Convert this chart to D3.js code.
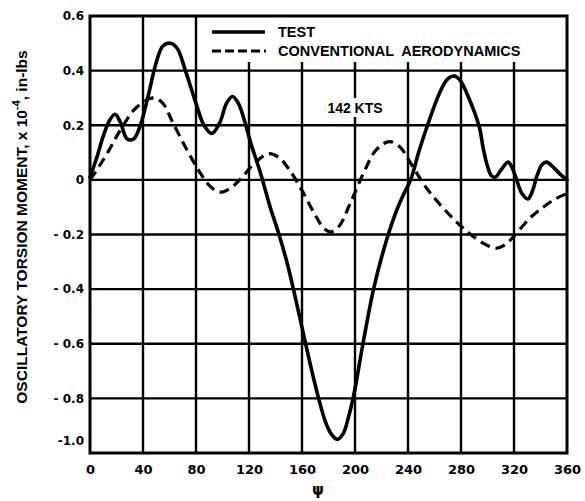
<!DOCTYPE html>
<html>
<head>
<meta charset="utf-8">
<script src="https://cdn.jsdelivr.net/npm/d3@7"></script>
<style>
  html, body { margin: 0; padding: 0; background: #fff; }
  svg { display: block; }
</style>
</head>
<body>
<svg id="chart" width="585" height="501"></svg>
<script>
// ---- data ----
const psiTest = [0,5,10,15,19,23,28,33,38,44,50,55,61,66,72,80,86,92,98,103,107.5,112,117,121,129,136,142,148,154,160,166,172,178,182,186.5,191,195,199,206,214,222,230,236,242,248,254,264,270,275,280,285,290,294,297,300,303,306,310,315.5,319,322,326,330.5,334,337,341,344.5,350,355,360];
const testValues = [0.01,0.08,0.16,0.22,0.24,0.21,0.15,0.15,0.20,0.31,0.43,0.49,0.50,0.48,0.40,0.28,0.20,0.17,0.21,0.28,0.305,0.28,0.21,0.14,0.02,-0.10,-0.19,-0.29,-0.41,-0.54,-0.67,-0.79,-0.89,-0.93,-0.95,-0.93,-0.87,-0.79,-0.60,-0.40,-0.25,-0.13,-0.06,0.0,0.10,0.19,0.32,0.37,0.38,0.36,0.31,0.25,0.19,0.11,0.05,0.015,0.01,0.035,0.065,0.04,0.0,-0.05,-0.07,-0.04,0.01,0.055,0.065,0.045,0.02,0.0];

const psiConv = [0,7,14.5,22,35,48,55,62,72,82,90,98,106,114,124,135,143,150,159,169,177,182,188,196,206,216,226,234,241.5,254,266,279,290,300,307,314,322,332,342,351,360];
const convValues = [0.0,0.05,0.11,0.175,0.265,0.30,0.28,0.215,0.12,0.035,-0.02,-0.045,-0.03,0.005,0.06,0.096,0.08,0.04,-0.03,-0.12,-0.18,-0.19,-0.17,-0.09,0.02,0.11,0.14,0.12,0.065,-0.03,-0.10,-0.165,-0.21,-0.24,-0.25,-0.235,-0.195,-0.14,-0.10,-0.07,-0.05];

const xTicks = [0,40,80,120,160,200,240,280,320,360];
const xTickLabels = ["0","40","80","120","160","200","240","280","320","360"];
const yTicks = [-1.0,-0.8,-0.6,-0.4,-0.2,0,0.2,0.4,0.6];
const yTickLabels = ["-1.0","- 0.8","- 0.6","- 0.4","- 0.2","0","0.2","0.4","0.6"];

const seriesNames = ["TEST", "CONVENTIONAL AERODYNAMICS"];
const speedLabel = "142 KTS";
const xTitle = "\u03C8";

// ---- layout ----
const svg = d3.select("#chart");
const mLeft = 90, mRight = 567, mTop = 16, mBottom = 453;
const x = d3.scaleLinear().domain([0, 360]).range([mLeft, mRight]);
const y = d3.scaleLinear().domain([-1.0, 0.6]).range([mBottom, mTop]);

const tickFont = "'DejaVu Sans', sans-serif";
const labelFont = "'Liberation Sans', Arial, sans-serif";

// gridlines
const grid = svg.append("g").attr("stroke", "#000").attr("stroke-width", 2.4);
grid.selectAll("line.v").data(xTicks.slice(1, -1)).join("line").attr("class", "v")
  .attr("x1", d => x(d)).attr("x2", d => x(d))
  .attr("y1", mTop).attr("y2", mBottom);
grid.selectAll("line.h").data(yTicks.slice(1, -1)).join("line").attr("class", "h")
  .attr("x1", mLeft).attr("x2", mRight)
  .attr("y1", d => y(d)).attr("y2", d => y(d));

// legend white box (interrupts gridlines)
svg.append("rect").attr("x", 205).attr("y", mTop).attr("width", mRight - 205).attr("height", 46)
  .attr("fill", "#fff");

// speed label with white background
svg.append("rect").attr("x", 327).attr("y", 98).attr("width", 57).attr("height", 19).attr("fill", "#fff");
svg.append("text").attr("x", 355).attr("y", 113).attr("text-anchor", "middle")
  .attr("font-family", labelFont).attr("font-weight", "bold").attr("font-size", 14)
  .text(speedLabel);

// frame
svg.append("rect").attr("x", mLeft).attr("y", mTop).attr("width", mRight - mLeft).attr("height", mBottom - mTop)
  .attr("fill", "none").attr("stroke", "#000").attr("stroke-width", 3);

// axes (labels only)
const xAxis = d3.axisBottom(x).tickValues(xTicks).tickSize(0).tickPadding(0)
  .tickFormat((d, i) => xTickLabels[i]);
const gx = svg.append("g").attr("transform", `translate(0,${mBottom})`).call(xAxis);
gx.select(".domain").remove();
gx.selectAll("text").attr("font-family", tickFont).attr("font-weight", "bold")
  .attr("font-size", 13).attr("fill", "#000").attr("dy", null).attr("y", 21);

const yAxis = d3.axisLeft(y).tickValues(yTicks).tickSize(0).tickPadding(6)
  .tickFormat((d, i) => yTickLabels[i]);
const gy = svg.append("g").attr("transform", `translate(${mLeft},0)`).call(yAxis);
gy.select(".domain").remove();
gy.selectAll("text").attr("font-family", tickFont).attr("font-weight", "bold")
  .attr("font-size", 12).attr("fill", "#000");
gy.selectAll(".tick").filter(d => d === -1.0).select("text").attr("y", -12);

// series
const lineGen = d3.line().x(d => x(d[0])).y(d => y(d[1])).curve(d3.curveCatmullRom.alpha(0.5));
const testData = psiTest.map((p, i) => [p, testValues[i]]);
const convData = psiConv.map((p, i) => [p, convValues[i]]);

svg.append("path").datum(convData).attr("d", lineGen)
  .attr("fill", "none").attr("stroke", "#000").attr("stroke-width", 3.2)
  .attr("stroke-dasharray", "10,6");
svg.append("path").datum(testData).attr("d", lineGen)
  .attr("fill", "none").attr("stroke", "#000").attr("stroke-width", 3.6)
  .attr("stroke-linejoin", "round").attr("stroke-linecap", "round");

// legend
const legend = svg.append("g");
legend.append("line").attr("x1", 212).attr("x2", 265).attr("y1", 32).attr("y2", 32)
  .attr("stroke", "#000").attr("stroke-width", 3.6);
legend.append("line").attr("x1", 212).attr("x2", 266).attr("y1", 51).attr("y2", 51)
  .attr("stroke", "#000").attr("stroke-width", 3.2).attr("stroke-dasharray", "9,4");
legend.selectAll("text").data(seriesNames).join("text")
  .attr("x", 278).attr("y", (d, i) => 37 + i * 19)
  .attr("font-family", labelFont).attr("font-weight", "bold").attr("font-size", 14.5)
  .attr("word-spacing", 4)
  .text(d => d);

// x title
svg.append("text").attr("x", 318).attr("y", 495).attr("text-anchor", "middle")
  .attr("font-family", tickFont).attr("font-weight", "bold").attr("font-size", 15)
  .text(xTitle);

// y title (rotated, with superscript)
const yt = svg.append("text")
  .attr("transform", "translate(27,227) rotate(-90)")
  .attr("text-anchor", "middle")
  .attr("font-family", labelFont).attr("font-weight", "bold").attr("font-size", 15.5);
yt.append("tspan").text("OSCILLATORY TORSION MOMENT, x 10");
yt.append("tspan").attr("dy", -7).attr("font-size", 11).text("-4");
yt.append("tspan").attr("dy", 7).text(", in-lbs");
</script>
</body>
</html>
